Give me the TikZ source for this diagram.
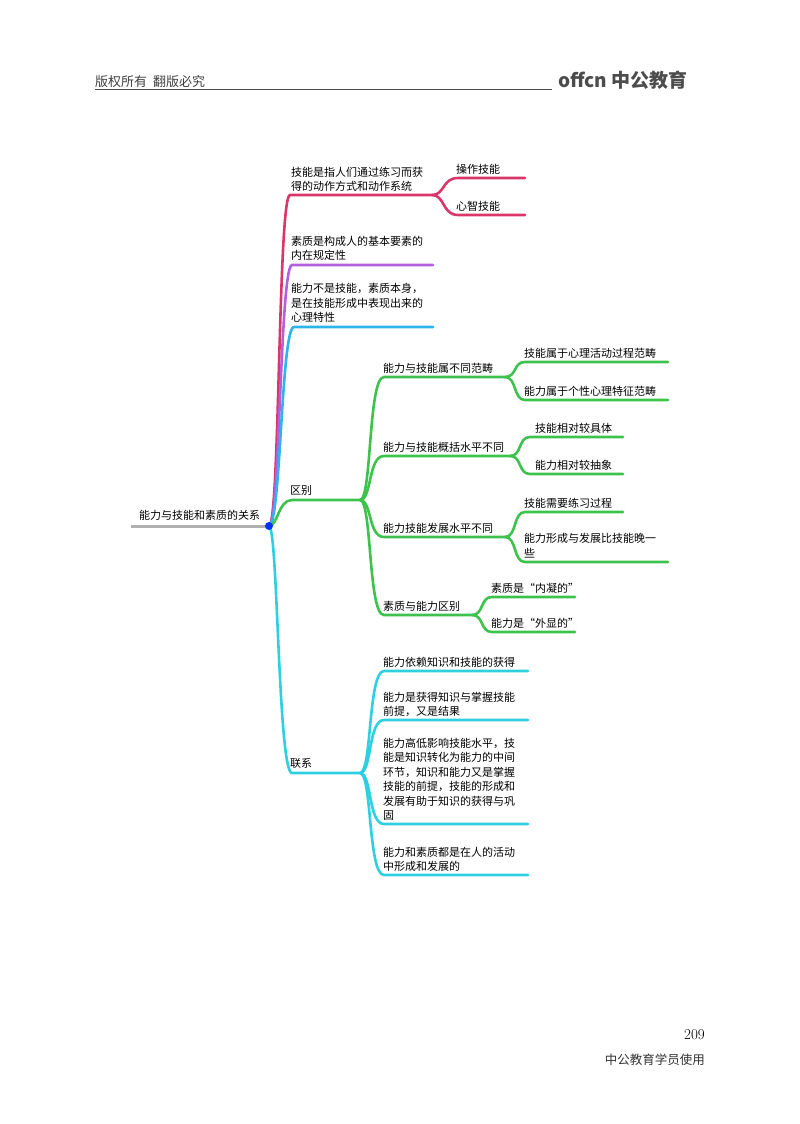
\documentclass[tikz,border=0pt]{standalone}
\usepackage{fontspec}
\usetikzlibrary{calc}
\newfontfamily\cjk{Noto Sans CJK SC}
\begin{document}
\begin{tikzpicture}[x=1pt,y=-1pt,
 txt/.style={anchor=south west,inner sep=1pt,font=\cjk\fontsize{11}{14.5}\selectfont,align=left},
 br/.style={line width=2.6pt,line cap=round}]
\useasboundingbox (0,0) rectangle (800,1124);
\definecolor{pk}{HTML}{D9366A}\definecolor{pu}{HTML}{B25FE0}\definecolor{sk}{HTML}{2EB4EC}
\definecolor{gr}{HTML}{3DC24C}\definecolor{cy}{HTML}{2ECFE0}\definecolor{gy}{HTML}{B0B0B0}
% header
\node[anchor=base west,inner sep=0,font=\cjk\fontsize{13}{13}\selectfont,text=black!75] (h1) at (95,86) {版权所有\ \ 翻版必究};
\draw[black!70,line width=0.6pt] (95,89) -- (552,89);
\node[anchor=base west,inner sep=0,font=\cjk\bfseries\fontsize{19}{19}\selectfont,text=black!70] (h2) at (558,88) {offcn 中公教育};
% footer
\node[anchor=base east,inner sep=0,font=\fontsize{15}{15}\selectfont] (f1) at (705,1039) {209};
\node[anchor=base east,inner sep=0,font=\cjk\fontsize{12.5}{12.5}\selectfont,text=black!80] (f2) at (705,1064) {中公教育学员使用};
% root
\coordinate (hub) at (269,526);
\coordinate (rs) at (131,526);
\node[txt] (root) at (138,522) {能力与技能和素质的关系};
\draw[gy,line width=3pt] (rs) -- (hub);
% pink
\coordinate (p1) at (290,195);\coordinate (p2) at (432,195);
\draw[pk,br] (hub) .. controls (280,526) and (278,195) .. (p1) -- (p2);
\node[txt] (tp) at (290,193) {技能是指人们通过练习而获\\得的动作方式和动作系统};
\coordinate (pa) at (458,178);\coordinate (pb) at (458,215);
\draw[pk,br] (p2) .. controls (445,195) and (442,178) .. (pa) -- (525,178);
\draw[pk,br] (p2) .. controls (445,195) and (442,215) .. (pb) -- (525,215);
\node[txt] (tpa) at (455,176) {操作技能};
\node[txt] (tpb) at (455,213) {心智技能};
% purple
\coordinate (q1) at (292,265);
\draw[pu,br] (hub) .. controls (280,526) and (280,265) .. (q1) -- (433,265);
\node[txt] (tq) at (290,262) {素质是构成人的基本要素的\\内在规定性};
% sky
\coordinate (s1) at (294,327);
\draw[sk,br] (hub) .. controls (281,526) and (281,327) .. (s1) -- (433,327);
\node[txt] (ts) at (290,324) {能力不是技能，素质本身，\\是在技能形成中表现出来的\\心理特性};
% green
\coordinate (g0) at (292,500);\coordinate (g1) at (360,500);
\draw[gr,br] (hub) .. controls (278,526) and (278,500) .. (g0) -- (g1);
\node[txt] (tg) at (289,497) {区别};
\foreach \y/\e/\n in {377/505/ga,456/510/gb,537/505/gc,615/472/gd}{
 \coordinate (\n) at (\e,\y);
 \draw[gr,br] (g1) .. controls (372,500) and (368,\y) .. (384,\y) -- (\n);}
\node[txt] (tga) at (382,375) {能力与技能属不同范畴};
\node[txt] (tgb) at (382,454) {能力与技能概括水平不同};
\node[txt] (tgc) at (382,535) {能力技能发展水平不同};
\node[txt] (tgd) at (382,613) {素质与能力区别};
\foreach \s/\y/\e/\x in {ga/362/668/525,ga/400/668/525,gb/437/623/530,gb/474/623/530,gc/512/623/525,gc/562/668/525,gd/597/575/492,gd/632/575/492}{
 \draw[gr,br] (\s) .. controls ($(\s)+(12,0)$) and (\x-12,\y) .. (\x,\y) -- (\e,\y);}
\node[txt] (a1) at (523,360) {技能属于心理活动过程范畴};
\node[txt] (a2) at (523,398) {能力属于个性心理特征范畴};
\node[txt] (b1) at (534,435) {技能相对较具体};
\node[txt] (b2) at (534,472) {能力相对较抽象};
\node[txt] (c1) at (523,510) {技能需要练习过程};
\node[txt] (c2) at (523,559) {能力形成与发展比技能晚一\\些};
\node[txt] (d1) at (490,595) {素质是“内凝的”};
\node[txt] (d2) at (490,630) {能力是“外显的”};
% cyan
\coordinate (c0) at (292,773);\coordinate (cc) at (360,773);
\draw[cy,br] (hub) .. controls (278,526) and (278,773) .. (c0) -- (cc);
\node[txt] (tc) at (289,770) {联系};
\foreach \y/\n in {671/ca,720/cb,824/ccc,875/cd}{
 \coordinate (\n) at (528,\y);
 \draw[cy,br] (cc) .. controls (372,773) and (368,\y) .. (384,\y) -- (\n);}
\node[txt] (e1) at (382,669) {能力依赖知识和技能的获得};
\node[txt] (e2) at (382,718) {能力是获得知识与掌握技能\\前提，又是结果};
\node[txt] (e3) at (382,822) {能力高低影响技能水平，技\\能是知识转化为能力的中间\\环节，知识和能力又是掌握\\技能的前提，技能的形成和\\发展有助于知识的获得与巩\\固};
\node[txt] (e4) at (382,873) {能力和素质都是在人的活动\\中形成和发展的};
\fill[blue!80!cyan] (hub) circle (4);
\end{tikzpicture}
\end{document}
